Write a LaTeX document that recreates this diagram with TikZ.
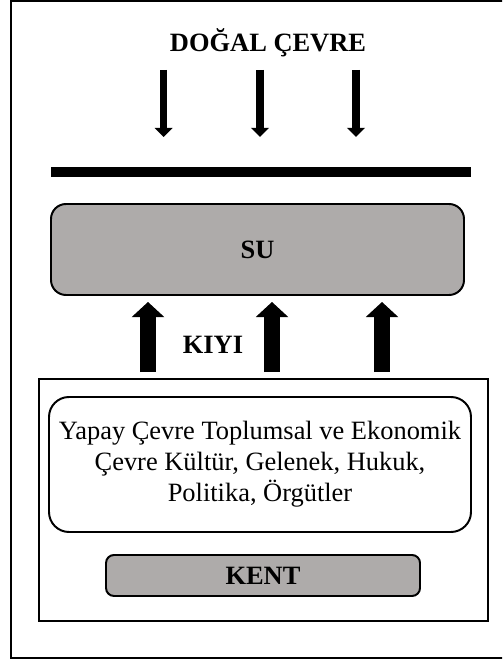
\documentclass[tikz,border=0pt]{standalone}
\usepackage{fontspec}
\setmainfont{Liberation Serif}
\usepackage{tikz}
\usetikzlibrary{arrows.meta}

\definecolor{boxgray}{RGB}{174,171,170}
\tikzset{
	label_text/.style={font=\fontsize{18.8}{22}\selectfont\bfseries},
	body_text/.style={font=\fontsize{18.8}{22}\selectfont},
	thin_arrow/.style={line width=5pt,-{Triangle[width=12.5pt,length=6.5pt]}},
	block_arrow/.style={line width=10.7pt,-{Triangle[width=22.5pt,length=10.7pt]},shorten <=0.15cm,shorten >=0.15cm},
	gray_box/.style={rectangle,draw,line width=1.4pt,fill=boxgray,inner sep=0pt}
}

\begin{document}
\begin{tikzpicture}
		\clip (0,0) rectangle (12.55,16.525);
%		\draw[help lines] (0,0) grid (13,17);
		\path (6.7,15.45) node(dogal) [label_text] {DOĞAL ÇEVRE};
		\path (4.09,14.775) coordinate (down0_top);
		\path (4.09,13.1) coordinate (down0_bot);
		\path (6.5,14.775) coordinate (down1_top);
		\path (6.5,13.1) coordinate (down1_bot);
		\path (8.9,14.775) coordinate (down2_top);
		\path (8.9,13.1) coordinate (down2_bot);
		\path (1.275,12.225) coordinate (bar_left);
		\path (11.775,12.225) coordinate (bar_right);
		\path (6.4375,10.2875) node(su) [gray_box,rounded corners=0.375cm,minimum width=10.325cm,minimum height=2.275cm,label_text] {SU};
		\path (6.5875,4.025) node(kent_area) [rectangle,draw,line width=1.4pt,minimum width=11.225cm,minimum height=6.05cm] {};
		\path (6.5,4.9125) node(yapay) [rectangle,draw,line width=1.4pt,rounded corners=0.5cm,minimum width=10.55cm,minimum height=3.375cm,align=center,body_text] {Yapay Çevre Toplumsal ve Ekonomik\\Çevre Kültür, Gelenek, Hukuk,\\Politika, Örgütler};
		\path (6.575,2.1375) node(kent) [gray_box,rounded corners=0.2cm,minimum width=7.85cm,minimum height=1.025cm,label_text] {KENT};
		\path (5.325,7.9) node(kiyi) [label_text] {KIYI};
		\path (3.7,8) coordinate (up0);
		\path (6.8,8) coordinate (up1);
		\path (9.55,8) coordinate (up2);

		\draw[line width=1.4pt] (0.275,0.075) rectangle (13,16.5);
		\draw[thin_arrow] (down0_top) -- (down0_bot);
		\draw[thin_arrow] (down1_top) -- (down1_bot);
		\draw[thin_arrow] (down2_top) -- (down2_bot);
		\draw[line width=7.1pt] (bar_left) -- (bar_right);
		\draw[block_arrow] (kent_area.north -| up0) -- (su.south -| up0);
		\draw[block_arrow] (kent_area.north -| up1) -- (su.south -| up1);
		\draw[block_arrow] (kent_area.north -| up2) -- (su.south -| up2);
	\end{tikzpicture}
\end{document}
